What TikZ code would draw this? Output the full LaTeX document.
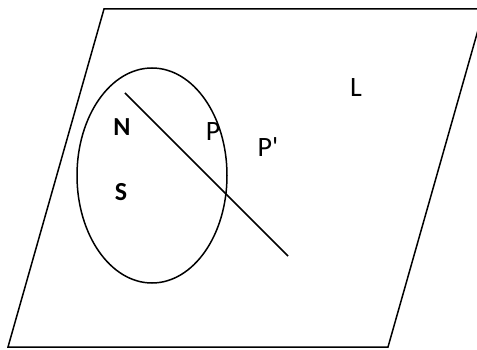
\documentclass[tikz,border=0pt]{standalone}
\usepackage{fontspec}
\setmainfont{Carlito}[BoldFont={Carlito Bold}]
\usetikzlibrary{positioning,shapes.geometric}
\tikzset{
  edge/.style={draw,line width=1.5pt},
  lbl/.style={font=\fontsize{28}{28}\selectfont,inner sep=0pt},
  pole/.style={font=\fontsize{26}{26}\selectfont\bfseries,inner sep=0pt}
}

\begin{document}
\begin{tikzpicture}[x=1pt,y=-1pt]
  \useasboundingbox (0,0) rectangle (477,350);
  \clip (0,0) rectangle (477,350);
  % plane
  \draw[edge] (8,347) -- (388,347) -- (484,9) -- (104,9) -- cycle;
  % sphere
  \node[ellipse,edge,minimum width=150pt,minimum height=215pt,inner sep=0pt] (sphere) at (152,175.5) {};
  \coordinate (north) at (125,93);
  \coordinate (tip) at (288,256);
  \draw[edge] (north) -- (tip);
  \node[pole] (n) at (122,127) {N};
  \node[pole] (s) at (121,192) {S};
  \node[lbl] (p) at (213,132) {P};
  \node[lbl] (pp) at (268,147) {P\textquotesingle};
  \node[lbl] (l) at (356,88) {L};
\end{tikzpicture}
\end{document}
